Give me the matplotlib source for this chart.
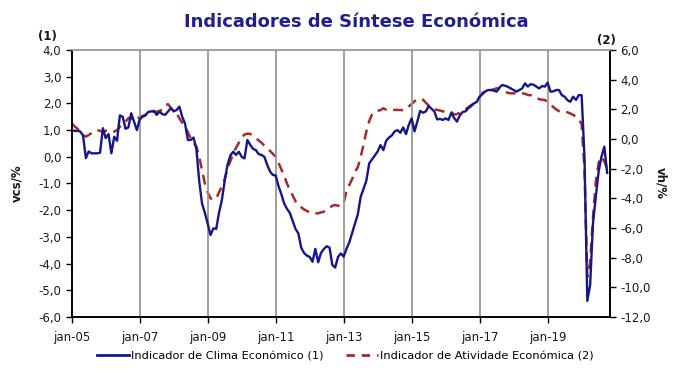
import numpy as np
import matplotlib
matplotlib.use("Agg")
import matplotlib.pyplot as plt
from matplotlib.ticker import FuncFormatter, MultipleLocator
from matplotlib.lines import Line2D

# monthly values, jan-05 .. out-20
clima = [
    1.00, 0.97, 0.97, 0.95, 0.80, -0.05, 0.20, 0.13, 0.13, 0.13, 0.15, 1.07,    # 2005
    0.70, 0.85, 0.13, 0.75, 0.60, 1.55, 1.50, 1.05, 1.10, 1.63, 1.32, 1.00,     # 2006
    1.40, 1.50, 1.55, 1.68, 1.70, 1.72, 1.57, 1.69, 1.60, 1.57, 1.70, 1.82,     # 2007
    1.70, 1.75, 1.88, 1.50, 1.25, 0.63, 0.63, 0.72, 0.30, -0.90, -1.75, -2.10,  # 2008
    -2.50, -2.93, -2.68, -2.70, -2.10, -1.62, -0.90, -0.30, 0.05, 0.19, 0.07, 0.19,  # 2009
    0.00, -0.06, 0.63, 0.45, 0.30, 0.25, 0.10, 0.07, 0.00, -0.30, -0.55, -0.68,  # 2010
    -0.70, -1.10, -1.40, -1.75, -1.95, -2.10, -2.40, -2.70, -2.87, -3.40, -3.60, -3.70,  # 2011
    -3.75, -3.93, -3.45, -3.95, -3.60, -3.45, -3.35, -3.40, -4.05, -4.15, -3.75, -3.62,  # 2012
    -3.74, -3.45, -3.20, -2.85, -2.49, -2.15, -1.50, -1.20, -0.90, -0.25, -0.10, 0.05,  # 2013
    0.20, 0.44, 0.25, 0.60, 0.72, 0.80, 0.95, 1.00, 0.90, 1.10, 0.85, 1.20,     # 2014
    1.44, 0.95, 1.32, 1.72, 1.65, 1.70, 1.90, 1.80, 1.70, 1.40, 1.42, 1.38,     # 2015
    1.44, 1.38, 1.65, 1.45, 1.32, 1.55, 1.68, 1.70, 1.82, 1.90, 2.00, 2.06,     # 2016
    2.25, 2.35, 2.45, 2.50, 2.50, 2.48, 2.44, 2.60, 2.69, 2.66, 2.62, 2.56,     # 2017
    2.50, 2.44, 2.50, 2.56, 2.75, 2.63, 2.72, 2.70, 2.63, 2.56, 2.65, 2.63,     # 2018
    2.78, 2.44, 2.45, 2.50, 2.50, 2.31, 2.25, 2.12, 2.06, 2.25, 2.13, 2.31,     # 2019
    2.31, 0.00, -5.40, -4.80, -2.50, -1.50, -0.55, 0.00, 0.38, -0.60,           # 2020
]

atividade = [
    1.06, 0.85, 0.70, 0.50, 0.25, 0.16, 0.27, 0.40, 0.52, 0.60, 0.55, 0.50,     # 2005
    0.55, 0.60, 0.50, 0.50, 0.60, 0.83, 1.00, 1.17, 1.40, 1.45, 1.20, 1.30,     # 2006
    1.50, 1.55, 1.62, 1.75, 1.84, 1.84, 1.84, 1.90, 1.96, 2.25, 2.35, 2.10,     # 2007
    1.90, 1.73, 1.40, 1.10, 0.83, 0.45, 0.05, -0.25, -0.50, -1.20, -2.10, -3.00,  # 2008
    -3.60, -4.00, -4.10, -4.00, -3.60, -3.20, -2.70, -2.00, -1.50, -1.00, -0.60, -0.25,  # 2009
    0.10, 0.30, 0.36, 0.35, 0.20, 0.05, -0.10, -0.25, -0.45, -0.65, -0.80, -1.00,  # 2010
    -1.20, -1.60, -2.05, -2.50, -3.00, -3.44, -3.80, -4.20, -4.45, -4.60, -4.75, -4.85,  # 2011
    -4.95, -5.01, -5.01, -5.01, -4.95, -4.90, -4.75, -4.65, -4.50, -4.45, -4.50, -4.50,  # 2012
    -4.30, -3.50, -3.10, -2.70, -2.20, -1.90, -1.20, -0.40, 0.50, 1.20, 1.65, 1.85,  # 2013
    1.90, 1.95, 2.07, 1.98, 2.00, 1.98, 1.96, 1.96, 1.95, 1.95, 2.00, 2.20,     # 2014
    2.35, 2.55, 2.65, 2.72, 2.65, 2.45, 2.25, 2.08, 2.00, 1.96, 1.92, 1.86,     # 2015
    1.84, 1.84, 1.80, 1.65, 1.68, 1.78, 1.86, 2.00, 2.15, 2.28, 2.40, 2.52,     # 2016
    2.85, 3.10, 3.25, 3.30, 3.30, 3.35, 3.42, 3.38, 3.30, 3.20, 3.10, 3.08,     # 2017
    3.08, 3.08, 3.08, 3.08, 3.05, 2.97, 2.95, 2.90, 2.80, 2.68, 2.65, 2.63,     # 2018
    2.50, 2.35, 2.15, 2.00, 1.88, 1.84, 1.84, 1.80, 1.72, 1.62, 1.52, 1.35,     # 2019
    1.00, -2.00, -9.30, -8.30, -5.30, -2.90, -1.60, -1.20, -1.50, -2.00,        # 2020
]

tick_labels = ["jan-05", "jan-07", "jan-09", "jan-11", "jan-13", "jan-15", "jan-17", "jan-19"]

BLUE = "#16168c"
RED = "#a52a2a"
TXT = "#1a1a1a"


def comma(v, pos):
    return f"{v:.1f}".replace(".", ",")


plt.rcParams["font.family"] = ["DejaVu Sans"]

fig = plt.figure(figsize=(6.81, 3.87), dpi=100)
ax = fig.add_axes([0.1053, 0.1809, 0.7904, 0.6899])
ax2 = ax.twinx()

x = np.arange(len(clima))
ax.plot(x, clima, color=BLUE, lw=1.7, zorder=3)
ax2.plot(np.arange(len(atividade)), atividade, color=RED, lw=1.8,
         dashes=(4, 2.6), zorder=2)
ax.set_zorder(ax2.get_zorder() + 1)
ax.patch.set_visible(False)

ax.set_xlim(0, 190)
ax.set_ylim(-6, 4)
ax2.set_ylim(-12, 6)
ax.set_xticks(np.arange(0, 190, 24))
ax.set_xticklabels(tick_labels)
for xv in range(24, 190, 24):
    ax.axvline(xv, color="#999999", lw=1.3, zorder=0)

ax.yaxis.set_major_locator(MultipleLocator(1))
ax2.yaxis.set_major_locator(MultipleLocator(2))
ax.yaxis.set_major_formatter(FuncFormatter(comma))
ax2.yaxis.set_major_formatter(FuncFormatter(comma))

for a in (ax, ax2):
    a.tick_params(direction="out", length=4, width=1, colors="black",
                  labelcolor=TXT, labelsize=8.5)
    for s in ("left", "right", "bottom"):
        a.spines[s].set_linewidth(1.2)
        a.spines[s].set_color("black")
    a.spines["top"].set_color("#a0a0a0")
    a.spines["top"].set_linewidth(1.2)
ax.tick_params(axis="x", pad=6)

ax.set_ylabel("vcs/%", fontsize=8.5, fontweight="bold", color=TXT, labelpad=11)
ax2.set_ylabel("vh/%", fontsize=8.5, fontweight="bold", color=TXT,
               rotation=-90, labelpad=12)

fig.text(0.069, 0.905, "(1)", fontsize=8.5, fontweight="bold", color=TXT,
         ha="center", va="center")
fig.text(0.891, 0.895, "(2)", fontsize=8.5, fontweight="bold", color=TXT,
         ha="center", va="center")
fig.text(0.523, 0.943, "Indicadores de Síntese Económica", fontsize=13,
         fontweight="bold", color="#1f1f8f", ha="center", va="center")

handles = [Line2D([], [], color=BLUE, lw=2),
           Line2D([], [], color=RED, lw=2, dashes=(3, 2.5))]
fig.legend(handles, ["Indicador de Clima Económico (1)",
                     "Indicador de Atividade Económica (2)"],
           loc="center", bbox_to_anchor=(0.507, 0.08), ncol=2, frameon=False,
           fontsize=8.2, handlelength=2.8, handletextpad=0.2, columnspacing=2.0)

fig.savefig("out.png", dpi=100)
